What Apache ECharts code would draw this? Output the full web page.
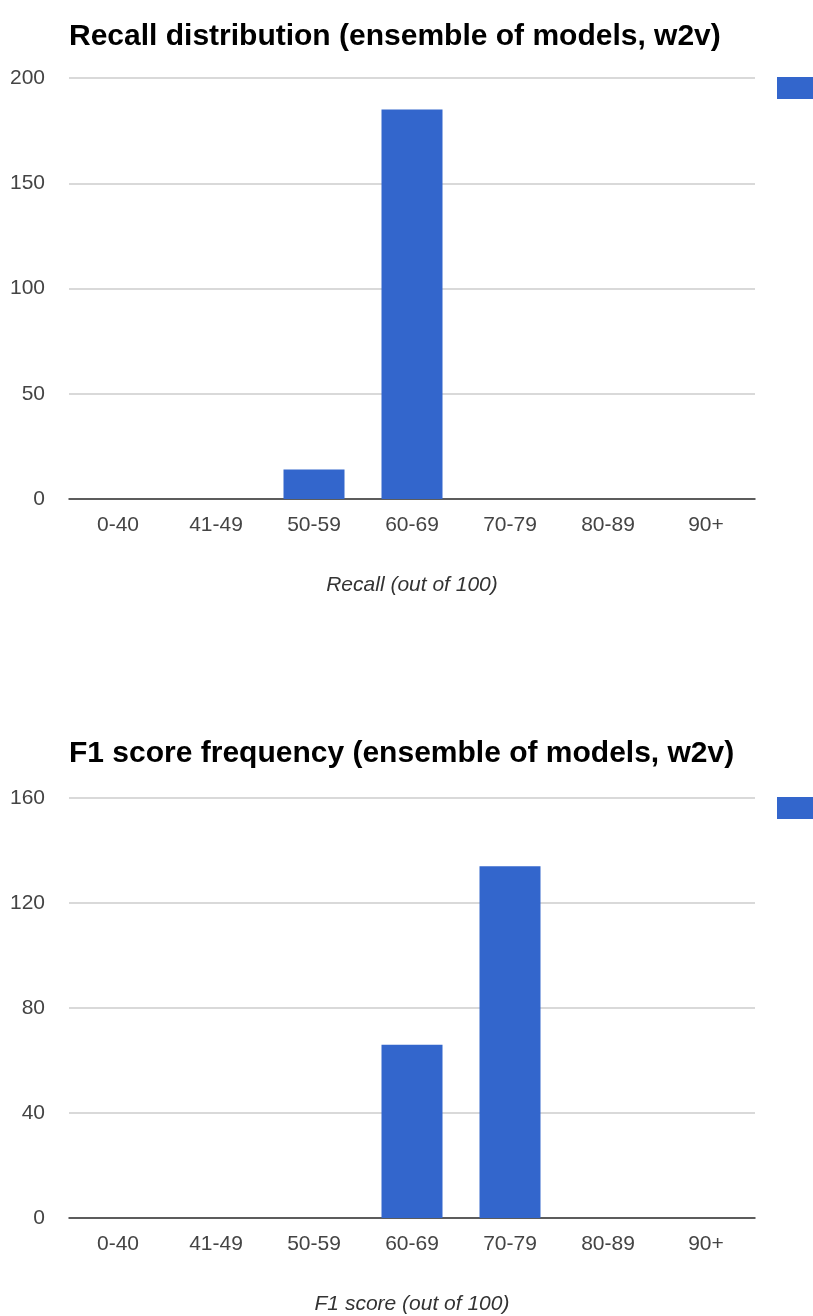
<!DOCTYPE html>
<html>
<head>
<meta charset="utf-8">
<script src="https://cdn.jsdelivr.net/npm/echarts@6/dist/echarts.min.js"></script>
<style>
  html, body { margin: 0; padding: 0; background: #fff; }
  #chart { width: 813px; height: 1316px; }
</style>
</head>
<body>
<div id="chart"></div>
<script>
// Score buckets shared by both histograms
const buckets = ['0-40', '41-49', '50-59', '60-69', '70-79', '80-89', '90+'];

// Number of models per bucket
const recallCounts = [0, 0, 14, 185, 0, 0, 0];
const f1Counts = [0, 0, 0, 66, 134, 0, 0];

// Y-axis tick settings
const recallAxis = { max: 200, interval: 50 };
const f1Axis = { max: 160, interval: 40 };

const barColor = '#3366cc';
const font = '"Liberation Sans", Arial, sans-serif';

const chart = echarts.init(document.getElementById('chart'), null, { renderer: 'canvas' });

function xAxisFor(gridIndex, name) {
  return {
    type: 'category',
    gridIndex,
    data: buckets,
    name,
    nameLocation: 'middle',
    nameGap: 76,
    nameTextStyle: { fontFamily: font, fontSize: 21, fontStyle: 'italic', color: '#333' },
    axisLine: { lineStyle: { color: '#333', width: 1.5 } },
    axisTick: { show: false },
    axisLabel: { fontFamily: font, fontSize: 21, color: '#444', margin: 16 }
  };
}

function yAxisFor(gridIndex, cfg) {
  return {
    type: 'value',
    gridIndex,
    min: 0,
    max: cfg.max,
    interval: cfg.interval,
    axisLine: { show: false },
    axisTick: { show: false },
    axisLabel: { fontFamily: font, fontSize: 21, color: '#444', margin: 24 },
    splitLine: { lineStyle: { color: '#cccccc', width: 1.5 } }
  };
}

const titleStyle = { fontFamily: font, fontSize: 30, fontWeight: 'bold', color: '#000' };

chart.setOption({
  animation: false,
  title: [
    { text: 'Recall distribution (ensemble of models, w2v)', left: 69, top: 22, padding: 0, textStyle: titleStyle },
    { text: 'F1 score frequency (ensemble of models, w2v)', left: 69, top: 739, padding: 0, textStyle: titleStyle }
  ],
  legend: [
    {
      data: ['Recall'], left: 777, top: 77, padding: 0, itemWidth: 44, itemHeight: 22,
      icon: 'rect', textStyle: { fontFamily: font, fontSize: 21 }
    },
    {
      data: ['F1 score'], left: 777, top: 797, padding: 0, itemWidth: 44, itemHeight: 22,
      icon: 'rect', textStyle: { fontFamily: font, fontSize: 21 }
    }
  ],
  grid: [
    { left: 69, top: 78, width: 686, height: 421 },
    { left: 69, top: 798, width: 686, height: 421 }
  ],
  xAxis: [
    xAxisFor(0, 'Recall (out of 100)'),
    xAxisFor(1, 'F1 score (out of 100)')
  ],
  yAxis: [
    yAxisFor(0, recallAxis),
    yAxisFor(1, f1Axis)
  ],
  series: [
    {
      name: 'Recall', type: 'bar', xAxisIndex: 0, yAxisIndex: 0,
      data: recallCounts, barWidth: 61,
      itemStyle: { color: barColor }
    },
    {
      name: 'F1 score', type: 'bar', xAxisIndex: 1, yAxisIndex: 1,
      data: f1Counts, barWidth: 61,
      itemStyle: { color: barColor }
    }
  ]
});
</script>
</body>
</html>
